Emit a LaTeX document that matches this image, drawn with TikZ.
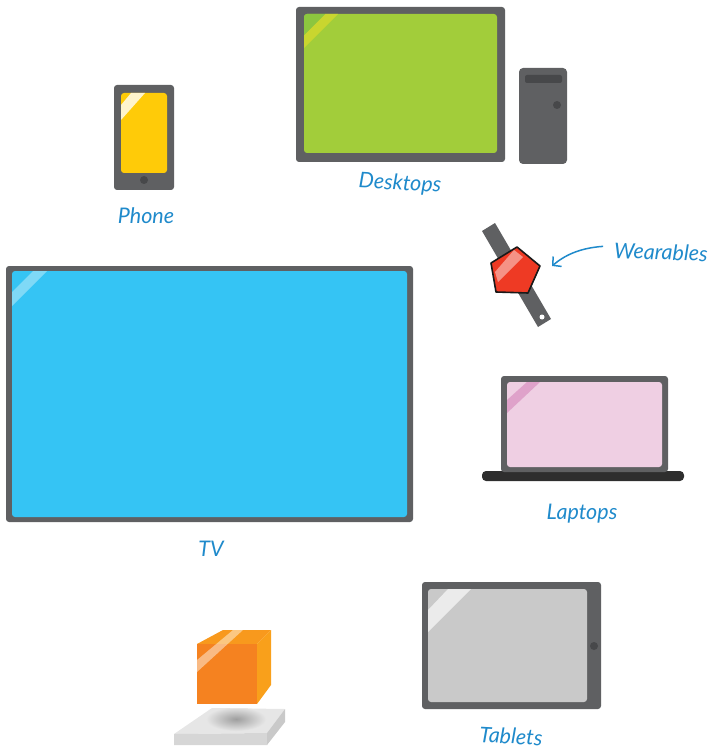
\documentclass[tikz,border=0pt]{standalone}
\usepackage{fontspec}
\setmainfont{Lato}
\usetikzlibrary{arrows.meta}
\definecolor{bezel}{HTML}{5F6062}
\definecolor{bezeldark}{HTML}{47484A}
\definecolor{inkblue}{HTML}{1F8ACB}
\definecolor{deskgreen}{HTML}{A2CD3A}
\definecolor{deskcorner}{HTML}{8CC63F}
\definecolor{deskglare}{HTML}{C9D62F}
\definecolor{phoneyellow}{HTML}{FFCB08}
\definecolor{phoneglare}{HTML}{FFF4CC}
\definecolor{tvblue}{HTML}{35C4F4}
\definecolor{tvglare}{HTML}{7FD9F6}
\definecolor{lappink}{HTML}{EFCFE3}
\definecolor{lapglare}{HTML}{DFA2CA}
\definecolor{tabgrey}{HTML}{C9C9C9}
\definecolor{tabglare}{HTML}{EBEBEB}
\definecolor{watchred}{HTML}{EE3A24}
\definecolor{boxfront}{HTML}{F58220}
\definecolor{boxside}{HTML}{F9A01B}
\definecolor{boxtop}{HTML}{F8991D}
\definecolor{platetop}{HTML}{E6E6E6}
\definecolor{platefront}{HTML}{D6D6D6}
\definecolor{plateside}{HTML}{C9C9C9}
\tikzset{
  devlabel/.style={text=inkblue, font=\itshape\fontsize{21.5}{22}\selectfont, inner sep=0pt},
  knob/.style={fill=bezeldark},
}

\begin{document}
\begin{tikzpicture}[x=1pt, y=-1pt]
    \useasboundingbox (0,0) rectangle (709,751);
    % laptop base sits behind the lid
    \fill[black!82, rounded corners=4pt] (482,471) rectangle (684,481);
    % bezel, screen and glare band of every flat device
    \foreach \bxa/\bya/\bxb/\byb/\sxa/\sya/\sxb/\syb/\ga/\gb/\gc/\gd/\col/\shine in {
        296/7/505/162/304/14/497/153/21/34/21/34/deskgreen/deskglare,
        114/85/174/190/121/93/167/173/10/24/12/27/phoneyellow/phoneglare,
        6/266/413/522/12/271/407/517/21/35/21/35/tvblue/tvglare,
        501/376/668/472/507/382/662/467/20/33/18/31/lappink/lapglare,
        422/582/601/709/428/589/587/702/20/43/21/43/tabgrey/tabglare}{
      \fill[bezel, rounded corners=3pt] (\bxa,\bya) rectangle (\bxb,\byb);
      \fill[\col, rounded corners=3pt] (\sxa,\sya) rectangle (\sxb,\syb);
      \begin{scope}
        \clip[rounded corners=3pt] (\sxa,\sya) rectangle (\sxb,\syb);
        \fill[\shine] (\sxa+\ga,\sya) -- (\sxa+\gb,\sya) -- (\sxa,\sya+\gd) -- (\sxa,\sya+\gc) -- cycle;
      \end{scope}
    }
    \begin{scope}
      \clip[rounded corners=3pt] (304,14) rectangle (497,153);
      \fill[deskcorner] (304,14) -- (325,14) -- (304,35) -- cycle;
    \end{scope}
    % tower
    \fill[bezel, rounded corners=4pt] (519,68) rectangle (567,164);
    \fill[bezeldark, rounded corners=2pt] (525,75) rectangle (562,83);
    \fill[knob] (557,105) circle (4);
    % home buttons
    \fill[knob] (144,180) circle (4);
    \fill[knob] (594,646) circle (4);
    % watch
    \fill[bezel] (482,231) -- (495,223) -- (551,319) -- (538,327) -- cycle;
    \fill[white] (542,317) circle (2.5);
    \filldraw[watchred, draw=black!90, line width=1.6pt, line join=round]
      (517,247) -- (540,266) -- (528,293) -- (496,292) -- (491,263) -- cycle;
    \fill[white, opacity=.45] (514,250) -- (523,257) -- (498,282) -- (495,272) -- cycle;
    % box
    \fill[boxtop] (197,644) -- (223,630) -- (271,630) -- (257,644) -- cycle;
    \fill[boxside] (257,644) -- (271,630) -- (271,685) -- (257,704) -- cycle;
    \fill[boxfront] (197,644) rectangle (257,704);
    \fill[white, opacity=.45] (197,660) -- (233,630) -- (243,630) -- (197,672) -- cycle;
    % plate under the box
    \fill[platetop] (174,734) -- (212,708) -- (285,709) -- (267,733) -- cycle;
    \fill[platefront] (174,734) -- (267,733) -- (267,745) -- (174,745) -- cycle;
    \fill[plateside] (285,709) -- (285,722) -- (267,745) -- (267,733) -- cycle;
    \begin{scope}
      \clip (174,734) -- (212,708) -- (285,709) -- (267,733) -- cycle;
      \shade[inner color=black!38, outer color=platetop] (236,719) ellipse (30 and 12);
    \end{scope}
    % labels
    \node[devlabel, rotate=-3] (desktops) at (400,184) {Desktops};
    \node[devlabel] (phone) at (146,216) {Phone};
    \node[devlabel, rotate=-2] (wearables) at (661,252) {Wearables};
    \node[devlabel] (laptops) at (582,514) {Laptops};
    \node[devlabel] (tv) at (211,549) {TV};
    \node[devlabel, rotate=-3] (tablets) at (511,736) {Tablets};
    \coordinate (watchtip) at (552,266);
    \draw[inkblue, line width=1.5pt, -{Straight Barb[length=6pt,width=13pt]}]
      (wearables.west) ++(-11,-4) .. controls (580,248) and (565,255) .. (watchtip);
\end{tikzpicture}
\end{document}
